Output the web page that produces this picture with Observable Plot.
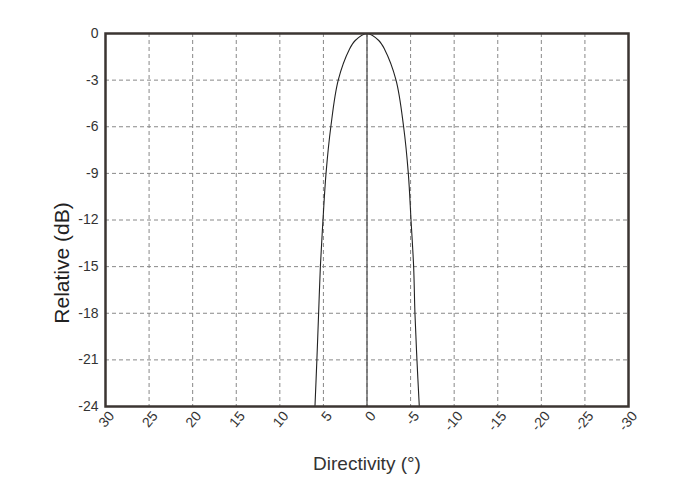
<!DOCTYPE html>
<html>
<head>
<meta charset="utf-8">
<script src="https://cdn.jsdelivr.net/npm/d3@7"></script>
<script src="https://cdn.jsdelivr.net/npm/@observablehq/plot@0.6"></script>
<style>
  body { margin: 0; background: #fff; }
  #chart svg { display: block; }
</style>
</head>
<body>
<div id="chart"></div>
<script>
// Beam pattern (angle in degrees, level in dB)
const angleDeg = [5.97, 5.75, 5.55, 5.35, 5.05, 4.7, 4.15, 3.3, 2.0, 1.35, 0, -1.35, -2.0, -3.33, -4.2, -4.74, -5.05, -5.35, -5.5, -5.73, -6.0];
const relDb = [-24, -21, -18, -15, -12, -9, -6, -3, -1.0, -0.45, 0, -0.45, -1.0, -3, -6, -9, -12, -15, -18, -21, -24];
const xTicks = [30, 25, 20, 15, 10, 5, 0, -5, -10, -15, -20, -25, -30];
const yTicks = [0, -3, -6, -9, -12, -15, -18, -21, -24];
const centerLine = [0];

const data = angleDeg.map((a, i) => ({angle: a, db: relDb[i]}));

const font = "'Liberation Sans Narrow', 'Liberation Sans', Arial, sans-serif";

const plot = Plot.plot({
  width: 700,
  height: 500,
  marginLeft: 105,
  marginRight: 72,
  marginTop: 33,
  marginBottom: 94,
  style: {fontFamily: font, fontSize: "13px", color: "#333", background: "#fff"},
  x: {domain: [30, -30], ticks: xTicks},
  y: {domain: [-24, 0], ticks: yTicks},
  marks: [
    Plot.gridX(xTicks, {stroke: "#888", strokeOpacity: 1, strokeWidth: 1, strokeDasharray: "4,3"}),
    Plot.gridY(yTicks, {stroke: "#888", strokeOpacity: 1, strokeWidth: 1, strokeDasharray: "4,3"}),
    Plot.ruleX(centerLine, {stroke: "#555", strokeWidth: 1.3}),
    Plot.line(data, {x: "angle", y: "db", stroke: "#222", strokeWidth: 1.1, curve: "catmull-rom"}),
    Plot.axisY(yTicks, {tickSize: 0, tickPadding: 7, label: null, fontSize: 14, fill: "#333", tickFormat: d => String(d)}),
    Plot.axisX(xTicks, {tickSize: 0, tickPadding: 5, tickRotate: -50, dx: 6, dy: 2, label: null, fontSize: 14, fill: "#333", tickFormat: d => String(d)}),
    Plot.frame({stroke: "#3b3532", strokeWidth: 2.5})
  ]
});

const svg = d3.select(plot);
svg.append("text")
  .attr("transform", "translate(69,263) rotate(-90)")
  .attr("text-anchor", "middle")
  .attr("font-family", "'Liberation Sans', Arial, sans-serif")
  .attr("font-size", 21)
  .attr("fill", "#222")
  .text("Relative (dB)");
svg.append("text")
  .attr("x", 367)
  .attr("y", 470)
  .attr("text-anchor", "middle")
  .attr("font-family", font)
  .attr("font-size", 19)
  .attr("fill", "#333")
  .text("Directivity (°)");

document.getElementById("chart").appendChild(plot);
</script>
</body>
</html>
